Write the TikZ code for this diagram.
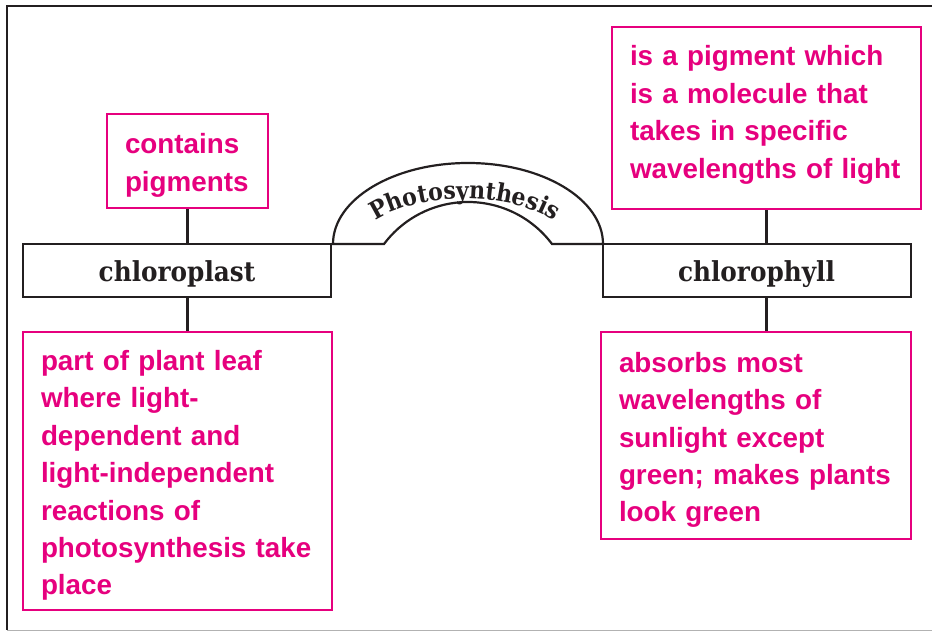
\documentclass[tikz,border=0pt]{standalone}
\usepackage{fontspec}
\setmainfont{Liberation Sans}
\newfontfamily\slabfont[FakeStretch=0.9]{DejaVu Serif Bold}
\usetikzlibrary{decorations.text}
\definecolor{hotpink}{RGB}{230,0,126}
\definecolor{inkblack}{RGB}{35,31,32}
\tikzset{
  factbox/.style={draw=hotpink, line width=2.4pt, text=hotpink, align=left,
    font=\bfseries\fontsize{27.8}{37.4}\selectfont, inner xsep=18pt, inner ysep=0pt},
  textdrop/.style={execute at begin node={\rule{0pt}{29pt}}},
  textlift/.style={execute at end node={\rule[-12pt]{0pt}{0pt}}},
  termbox/.style={draw=inkblack, line width=2pt, text=inkblack,
    font=\slabfont\fontsize{27.5}{27.5}\selectfont, text height=24pt, text depth=1pt,
    minimum width=308pt, minimum height=53pt, inner sep=0pt},
  link/.style={draw=inkblack, line width=2.2pt}
}
\begin{document}
\begin{tikzpicture}[x=1pt,y=-1pt]
            \useasboundingbox (0,0) rectangle (932,631);
            % frame
            \draw[inkblack,line width=2.2pt] (932,6) -- (7,6) -- (7,630);
            \draw[gray!60,line width=1pt] (7,630) -- (932,630);
            % left side
            \node[factbox,textdrop,text width=125pt,minimum height=94pt] (pigbox) at (187.5,161) {contains\\pigments};
            \node[termbox] (plast) at (177,270.5) {chloroplast};
            \node[factbox,textdrop,text width=273pt,minimum height=278pt] (leafbox) at (177.5,471)
                {part of plant leaf\\where light-\\dependent and\\light-independent\\reactions of\\photosynthesis take\\place};
            % right side
            \node[factbox,textlift,text width=273pt,minimum height=182pt] (molbox) at (766.5,118)
                {is a pigment which\\is a molecule that\\takes in specific\\wavelengths of light};
            \node[termbox] (phyll) at (756.5,270.5) {chlorophyll};
            \node[factbox,textdrop,text width=274pt,minimum height=207pt] (absbox) at (756,435.5)
                {absorbs most\\wavelengths of\\sunlight except\\green; makes plants\\look green};
            \foreach \up/\term/\down in {pigbox/plast/leafbox, molbox/phyll/absbox} {
                \draw[link] (\up.south) -- (\up.south |- \term.north);
                \draw[link] (\up.south |- \term.south) -- (\up.south |- \down.north);
            }
            % arch
            \draw[link] (333,244) arc[start angle=180,end angle=360,x radius=135,y radius=81]
                -- (552,244) arc[start angle=323.13,end angle=216.87,radius=105] -- cycle;
            \path[decorate,decoration={text along path,text align=center,text color=inkblack,
                text={|\slabfont\fontsize{24.5}{24.5}\selectfont|Photosynthesis}}]
                (355,252) arc[start angle=180,end angle=360,x radius=110,y radius=53];
        \end{tikzpicture}
\end{document}
